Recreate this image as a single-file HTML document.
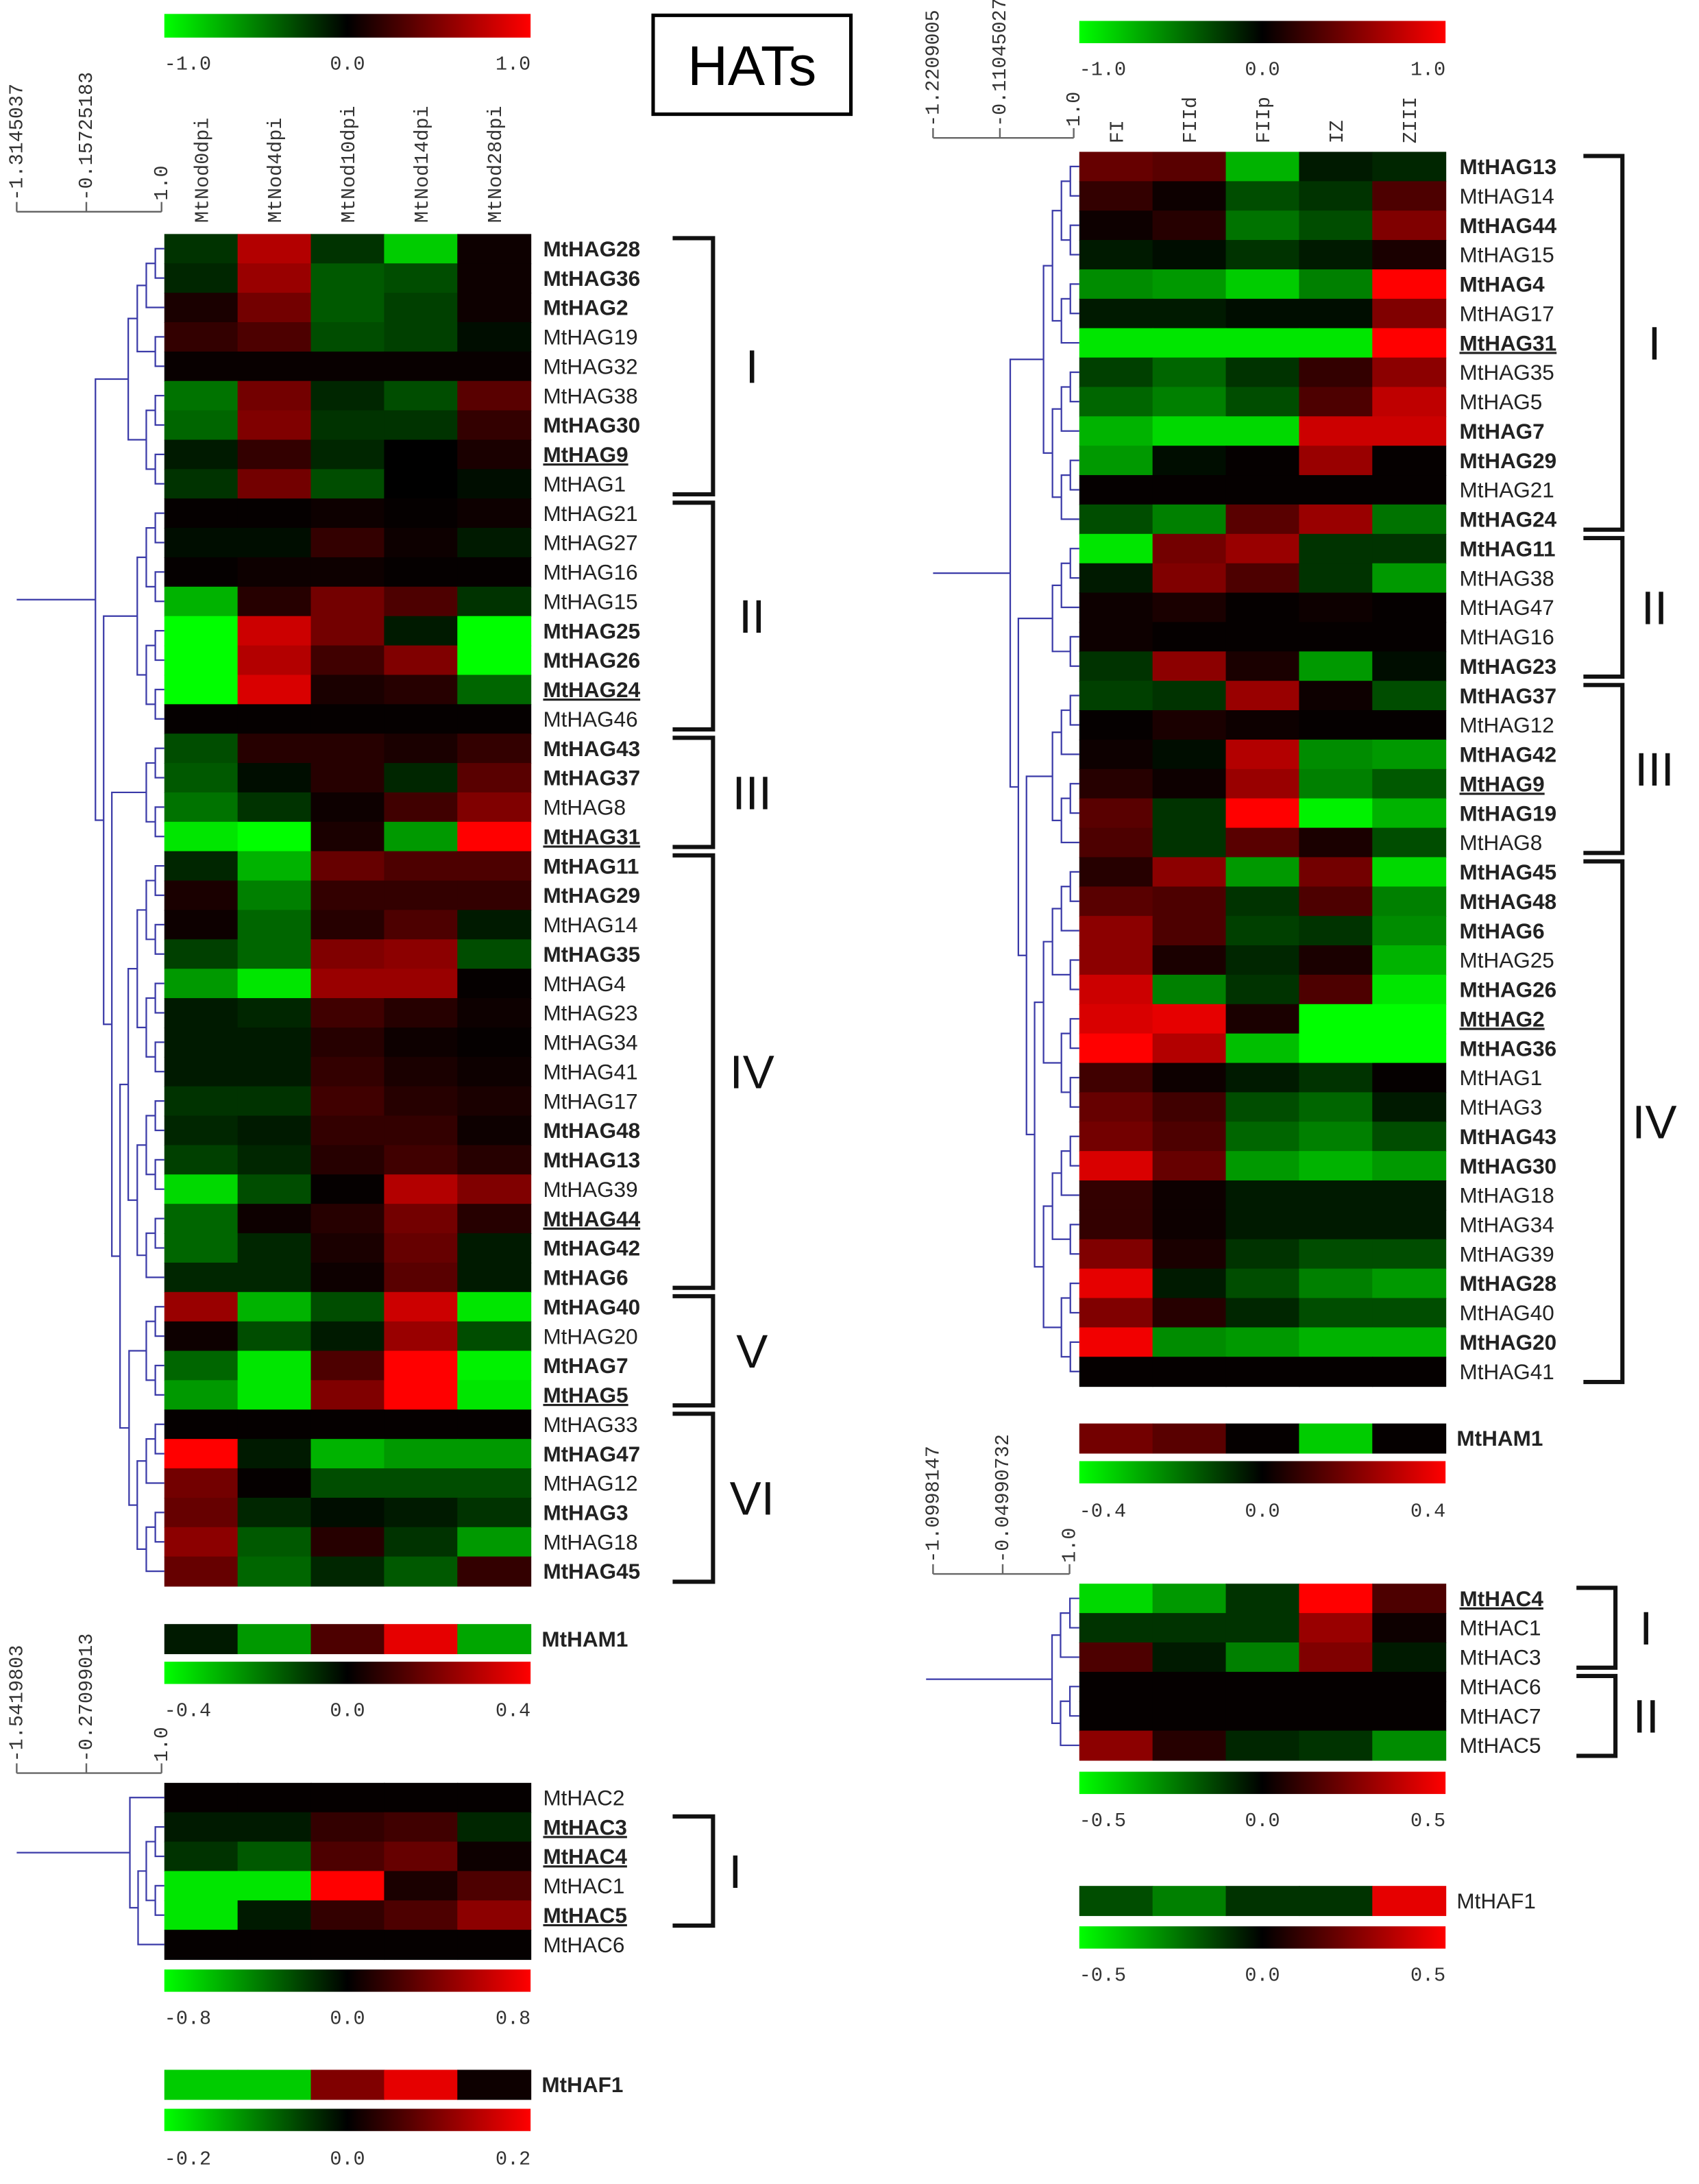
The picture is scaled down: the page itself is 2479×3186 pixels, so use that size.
<!DOCTYPE html>
<html><head><meta charset="utf-8"><style>
html,body{margin:0;padding:0;background:#fff;}
svg{display:block;}
.lab{font-family:"Liberation Sans",sans-serif;font-size:15.5px;fill:#222;}
.mono{font-family:"Liberation Mono",monospace;font-size:14px;fill:#333;}
.rn{font-family:"Liberation Sans",sans-serif;font-size:34px;fill:#111;}
</style></head><body>
<svg id="chart" xmlns="http://www.w3.org/2000/svg" width="2479" height="3186" viewBox="0 0 1220 1568" preserveAspectRatio="none">
<defs>
<linearGradient id="gbr" x1="0" x2="1" y1="0" y2="0">
<stop offset="0" stop-color="#00ff00"/><stop offset="0.5" stop-color="#000"/><stop offset="1" stop-color="#ff0000"/>
</linearGradient>
</defs>
<g id="root"></g>
</svg>
<script>
// ---------- DATA ----------
const leftCols = ["MtNod0dpi","MtNod4dpi","MtNod10dpi","MtNod14dpi","MtNod28dpi"];
const rightCols = ["FI","FIId","FIIp","IZ","ZIII"];
const leftGenes = ["MtHAG28","MtHAG36","MtHAG2","MtHAG19","MtHAG32","MtHAG38","MtHAG30","MtHAG9","MtHAG1","MtHAG21","MtHAG27","MtHAG16","MtHAG15","MtHAG25","MtHAG26","MtHAG24","MtHAG46","MtHAG43","MtHAG37","MtHAG8","MtHAG31","MtHAG11","MtHAG29","MtHAG14","MtHAG35","MtHAG4","MtHAG23","MtHAG34","MtHAG41","MtHAG17","MtHAG48","MtHAG13","MtHAG39","MtHAG44","MtHAG42","MtHAG6","MtHAG40","MtHAG20","MtHAG7","MtHAG5","MtHAG33","MtHAG47","MtHAG12","MtHAG3","MtHAG18","MtHAG45"];
const leftBold = ["MtHAG28","MtHAG36","MtHAG2","MtHAG30","MtHAG9","MtHAG25","MtHAG26","MtHAG24","MtHAG43","MtHAG37","MtHAG31","MtHAG11","MtHAG29","MtHAG35","MtHAG48","MtHAG13","MtHAG44","MtHAG42","MtHAG6","MtHAG40","MtHAG7","MtHAG5","MtHAG47","MtHAG3","MtHAG45"];
const leftUnder = ["MtHAG9","MtHAG24","MtHAG31","MtHAG44","MtHAG5"];
const leftValues = [
[-0.2,0.7,-0.2,-0.8,0.05],[-0.15,0.6,-0.35,-0.3,0.05],[0.1,0.45,-0.35,-0.25,0.05],[0.2,0.3,-0.3,-0.25,-0.05],[0.03,0.03,0.03,0.03,0.03],
[-0.45,0.45,-0.15,-0.3,0.35],[-0.4,0.5,-0.2,-0.2,0.2],[-0.1,0.2,-0.15,0,0.1],[-0.2,0.45,-0.3,0,-0.05],
[0.02,0.02,0.05,0.02,0.05],[-0.05,-0.05,0.2,0.05,-0.1],[0.02,0.05,0.05,0.02,0.02],[-0.7,0.15,0.45,0.3,-0.2],[-1,0.8,0.45,-0.1,-1],[-1,0.7,0.25,0.5,-1],[-1,0.85,0.1,0.15,-0.4],[0.02,0.02,0.02,0.02,0.02],
[-0.3,0.15,0.15,0.1,0.2],[-0.35,-0.05,0.15,-0.15,0.35],[-0.45,-0.2,0.05,0.25,0.5],[-0.9,-1,0.1,-0.6,1],
[-0.15,-0.7,0.4,0.3,0.3],[0.1,-0.5,0.2,0.2,0.2],[0.05,-0.4,0.15,0.3,-0.1],[-0.25,-0.4,0.5,0.55,-0.3],[-0.6,-0.9,0.6,0.6,0.02],[-0.1,-0.15,0.25,0.15,0.05],[-0.1,-0.1,0.15,0.05,0.02],[-0.1,-0.1,0.2,0.1,0.05],[-0.2,-0.2,0.25,0.15,0.1],[-0.15,-0.1,0.2,0.2,0.05],[-0.25,-0.15,0.15,0.25,0.15],[-0.85,-0.3,0.02,0.7,0.5],[-0.4,0.05,0.15,0.45,0.15],[-0.4,-0.15,0.1,0.4,-0.1],[-0.15,-0.15,0.05,0.35,-0.1],
[0.6,-0.7,-0.3,0.8,-0.9],[0.05,-0.3,-0.1,0.6,-0.3],[-0.4,-0.9,0.3,1,-0.95],[-0.6,-0.9,0.5,1,-0.9],
[0.02,0.02,0.02,0.02,0.02],[1,-0.1,-0.7,-0.6,-0.6],[0.45,0.02,-0.3,-0.3,-0.3],[0.4,-0.15,-0.05,-0.1,-0.2],[0.55,-0.35,0.15,-0.2,-0.6],[0.4,-0.4,-0.15,-0.35,0.2]];
const leftGroups = [["I",0,8],["II",9,16],["III",17,20],["IV",21,35],["V",36,39],["VI",40,45]];

const rightGenes = ["MtHAG13","MtHAG14","MtHAG44","MtHAG15","MtHAG4","MtHAG17","MtHAG31","MtHAG35","MtHAG5","MtHAG7","MtHAG29","MtHAG21","MtHAG24","MtHAG11","MtHAG38","MtHAG47","MtHAG16","MtHAG23","MtHAG37","MtHAG12","MtHAG42","MtHAG9","MtHAG19","MtHAG8","MtHAG45","MtHAG48","MtHAG6","MtHAG25","MtHAG26","MtHAG2","MtHAG36","MtHAG1","MtHAG3","MtHAG43","MtHAG30","MtHAG18","MtHAG34","MtHAG39","MtHAG28","MtHAG40","MtHAG20","MtHAG41"];
const rightBold = ["MtHAG13","MtHAG44","MtHAG4","MtHAG31","MtHAG7","MtHAG29","MtHAG24","MtHAG11","MtHAG23","MtHAG37","MtHAG42","MtHAG9","MtHAG19","MtHAG45","MtHAG48","MtHAG6","MtHAG26","MtHAG2","MtHAG36","MtHAG43","MtHAG30","MtHAG28","MtHAG20"];
const rightUnder = ["MtHAG31","MtHAG9","MtHAG2"];
const rightValues = [
[0.4,0.35,-0.7,-0.1,-0.15],[0.2,0.05,-0.3,-0.2,0.3],[0.05,0.15,-0.45,-0.3,0.5],[-0.1,-0.05,-0.2,-0.1,0.1],[-0.55,-0.6,-0.8,-0.5,1],[-0.1,-0.1,-0.05,-0.05,0.5],[-0.9,-0.9,-0.9,-0.9,1],[-0.25,-0.4,-0.2,0.2,0.55],[-0.4,-0.5,-0.3,0.3,0.75],[-0.7,-0.85,-0.85,0.8,0.8],[-0.6,-0.05,0.02,0.6,0.02],[0.02,0.02,0.02,0.02,0.02],[-0.3,-0.5,0.35,0.6,-0.45],
[-0.9,0.45,0.6,-0.2,-0.2],[-0.1,0.5,0.3,-0.2,-0.6],[0.05,0.1,0.02,0.05,0.02],[0.05,0.02,0.02,0.02,0.02],[-0.2,0.55,0.1,-0.6,-0.05],
[-0.25,-0.2,0.6,0.05,-0.3],[0.02,0.1,0.05,0.02,0.02],[0.05,-0.05,0.7,-0.55,-0.6],[0.15,0.05,0.6,-0.5,-0.35],[0.35,-0.2,1,-0.95,-0.7],[0.3,-0.2,0.35,0.1,-0.3],
[0.15,0.55,-0.6,0.45,-0.85],[0.35,0.3,-0.2,0.3,-0.5],[0.55,0.3,-0.25,-0.2,-0.55],[0.55,0.1,-0.15,0.1,-0.7],[0.8,-0.5,-0.2,0.3,-0.9],[0.85,0.9,0.1,-1,-1],[1,0.7,-0.75,-1,-1],[0.25,0.05,-0.1,-0.2,0.02],[0.4,0.25,-0.3,-0.4,-0.1],[0.45,0.3,-0.4,-0.5,-0.3],[0.85,0.4,-0.6,-0.7,-0.6],[0.2,0.05,-0.1,-0.1,-0.1],[0.2,0.05,-0.1,-0.1,-0.1],[0.5,0.1,-0.2,-0.3,-0.3],[0.9,-0.1,-0.3,-0.5,-0.6],[0.5,0.15,-0.15,-0.3,-0.3],[0.95,-0.55,-0.6,-0.7,-0.7],[0.02,0.02,0.02,0.02,0.02]];
const rightGroups = [["I",0,12],["II",13,17],["III",18,23],["IV",24,41]];

const leftHAM1 = [-0.1,-0.6,0.3,0.9,-0.65];
const leftHACGenes = ["MtHAC2","MtHAC3","MtHAC4","MtHAC1","MtHAC5","MtHAC6"];
const leftHACBold = ["MtHAC3","MtHAC4","MtHAC5"];
const leftHACValues = [[0.02,0.02,0.02,0.02,0.02],[-0.1,-0.1,0.2,0.25,-0.15],[-0.2,-0.35,0.3,0.4,0.05],[-0.9,-0.9,1,0.1,0.3],[-0.9,-0.1,0.2,0.3,0.55],[0.02,0.02,0.02,0.02,0.02]];
const leftHAF1 = [-0.8,-0.8,0.5,0.9,0.05];
const rightHAM1 = [0.45,0.35,0.02,-0.8,0.02];
const rightHACGenes = ["MtHAC4","MtHAC1","MtHAC3","MtHAC6","MtHAC7","MtHAC5"];
const rightHACBold = ["MtHAC4"];
const rightHACValues = [[-0.85,-0.6,-0.2,1,0.3],[-0.2,-0.2,-0.2,0.6,0.05],[0.3,-0.1,-0.5,0.5,-0.1],[0.02,0.02,0.02,0.02,0.02],[0.02,0.02,0.02,0.02,0.02],[0.55,0.15,-0.15,-0.2,-0.55]];
const rightHAF1 = [-0.3,-0.5,-0.2,-0.2,0.9];

const leftTicks = ["-1.0","0.0","1.0"];
const ticks04 = ["-0.4","0.0","0.4"];
const ticks08 = ["-0.8","0.0","0.8"];
const ticks02 = ["-0.2","0.0","0.2"];
const ticks05 = ["-0.5","0.0","0.5"];

// ---------- DRAW ----------
const NS = "http://www.w3.org/2000/svg";
const root = document.getElementById("root");
function mk(tag, attrs, parent){const e=document.createElementNS(NS,tag);for(const k in attrs)e.setAttribute(k,attrs[k]);(parent||root).appendChild(e);return e;}
function col(v){v=Math.max(-1,Math.min(1,v));if(v<0)return `rgb(0,${Math.round(-v*255)},0)`;return `rgb(${Math.round(v*255)},0,0)`;}
const RH = 21.1;
function xScale(x0,x1,n){const w=(x1-x0)/n;return i=>x0+i*w;}

function heat(values, x0, x1, y0, name){
  const g=mk("g",{});
  
  
  const xs=xScale(x0,x1,5), w=(x1-x0)/5;
  values.forEach((row,r)=>row.forEach((v,c)=>{
    const rc=mk("rect",{x:xs(c),y:y0+r*RH,width:w+0.5,height:RH+0.5,fill:col(v)},g);
    
    
  }));
}
function labels(genes,bold,under,x,y0,name){
  genes.forEach((gname,r)=>{
    const t=mk("text",{x:x,y:y0+r*RH+RH/2+5.5,class:"lab"});
    t.textContent=gname;
    if(bold.includes(gname)) t.setAttribute("font-weight","bold");
    if(under.includes(gname)) t.setAttribute("text-decoration","underline");
    
    
  });
}
function colorbar(x0,x1,y,h,ticks,ty,name){
  const r=mk("rect",{x:x0,y:y,width:x1-x0,height:h,fill:"url(#gbr)"});
  
  
  const pos=[x0,(x0+x1)/2,x1], anc=["start","middle","end"];
  ticks.forEach((t,i)=>{
    const tx=mk("text",{x:pos[i],y:ty,class:"mono","text-anchor":anc[i],"font-size":"15"});
    tx.textContent=t;
    
    
  });
}
function colHeaders(cols,x0,x1,yb,name){
  const xs=xScale(x0,x1,5), w=(x1-x0)/5;
  cols.forEach((c,i)=>{
    const x=xs(i)+w/2+5;
    const t=mk("text",{x:x,y:yb,class:"mono",transform:`rotate(-90 ${x} ${yb})`});
    t.textContent=c;
    
    
  });
}
function scaleBar(xs,labs,y,name){
  const g=mk("g",{stroke:"#666","stroke-width":1.2,fill:"none"});
  
  
  mk("line",{x1:xs[0],x2:xs[2],y1:y,y2:y},g);
  xs.forEach(x=>mk("line",{x1:x,x2:x,y1:y-7,y2:y},g));
  labs.forEach((l,i)=>{
    const x=xs[i]+4, yy=y-8;
    const t=mk("text",{x:x,y:yy,class:"mono","font-size":"10.5",transform:`rotate(-90 ${x} ${yy})`});
    t.textContent=l;
    
    
  });
}
function dendro(groups,n,y0,xr,xl,name){
  const g=mk("g",{stroke:"#3a3aa8","stroke-width":1.1,fill:"none"});
  
  
  const unit=(xr-xl)/9;
  function build(lo,hi){
    if(lo===hi) return {y:y0+lo*RH+RH/2,h:0};
    const mid=Math.floor((lo+hi)/2);
    const a=build(lo,mid), b=build(mid+1,hi);
    const h=Math.max(a.h,b.h)+0.55;
    join(a,b,h);
    return {y:(a.y+b.y)/2,h:h};
  }
  function join(a,b,h){
    const x=xr-h*unit;
    mk("path",{d:`M${xr-a.h*unit} ${a.y}H${x}V${b.y}H${xr-b.h*unit}`},g);
  }
  let nodes=groups.map(gr=>build(gr[1],gr[2]));
  let cur=nodes[nodes.length-1];
  for(let i=nodes.length-2;i>=0;i--){
    const h=Math.max(nodes[i].h,cur.h)+0.5;
    join(nodes[i],cur,h);
    cur={y:(nodes[i].y+cur.y)/2,h:h};
  }
  mk("path",{d:`M${xr-cur.h*unit} ${cur.y}H${xl}`},g);
}
function brackets(groups,y0,bx,tickw,nx,name){
  groups.forEach(gr=>{
    const top=y0+gr[1]*RH+3, bot=y0+(gr[2]+1)*RH-3;
    const p=mk("path",{d:`M${bx-tickw} ${top}H${bx}V${bot}H${bx-tickw}`,stroke:"#111","stroke-width":3,fill:"none"});
    
    
    const t=mk("text",{x:nx,y:(top+bot)/2+12,class:"rn","text-anchor":"middle"});
    t.textContent=gr[0];
    
    
  });
}
function bar1(vals,x0,x1,y,label,bold,name){
  heat([vals],x0,x1,y,name);
  const t=mk("text",{x:x1+8,y:y+RH/2+5.5,class:"lab"});
  t.textContent=label;
  if(bold) t.setAttribute("font-weight","bold");
  
  
}

// Title box
const tb=mk("rect",{x:469,y:11,width:142,height:71,fill:"none",stroke:"#000","stroke-width":2.5});


const tt=mk("text",{x:540,y:61,"text-anchor":"middle","font-family":"Liberation Sans, sans-serif","font-size":"40",fill:"#000"});
tt.textContent="HATs";



// LEFT PANEL
const LX0=118, LX1=381, LY0=168;
colorbar(LX0,LX1,10,17,leftTicks,50,"left-colorbar");
colHeaders(leftCols,LX0,LX1,160,"left-column-header");
scaleBar([12,62,116],["-1.3145037","-0.15725183","1.0"],152,"left-dendrogram-scale");
heat(leftValues,LX0,LX1,LY0,"left-hag-heatmap");
labels(leftGenes,leftBold,leftUnder,390,LY0,"gene-label");
dendro(leftGroups,leftGenes.length,LY0,LX0,12,"left-hag-dendrogram");
brackets(leftGroups,LY0,512,29,540,"left-cluster-bracket");
bar1(leftHAM1,LX0,LX1,1166,"MtHAM1",true,"left-ham1-bar");
colorbar(LX0,LX1,1193,16,ticks04,1232,"left-ham1-colorbar");
scaleBar([12,62,116],["-1.5419803","-0.27099013","1.0"],1273,"left-hac-dendrogram-scale");
heat(leftHACValues,LX0,LX1,1280,"left-hac-heatmap");
labels(leftHACGenes,leftHACBold,leftHACBold,390,1280,"gene-label");
dendro([["I",0,0],["I",1,4],["I",5,5]],6,1280,LX0,12,"left-hac-dendrogram");
brackets([["I",1,4]],1280,512,29,528,"left-hac-bracket");
colorbar(LX0,LX1,1414,16,ticks08,1453,"left-hac-colorbar");
bar1(leftHAF1,LX0,LX1,1486,"MtHAF1",true,"left-haf1-bar");
colorbar(LX0,LX1,1514,16,ticks02,1554,"left-haf1-colorbar");

// RIGHT PANEL
const RX0=775, RX1=1038, RY0=109;
colorbar(RX0,RX1,15,16,leftTicks,54,"right-colorbar");
colHeaders(rightCols,RX0,RX1,103,"right-column-header");
scaleBar([670,718,771],["-1.2209005","-0.11045027","1.0"],99,"right-dendrogram-scale");
heat(rightValues,RX0,RX1,RY0,"right-hag-heatmap");
labels(rightGenes,rightBold,rightUnder,1048,RY0,"gene-label");
dendro(rightGroups,rightGenes.length,RY0,RX0,670,"right-hag-dendrogram");
brackets(rightGroups,RY0,1165,28,1188,"right-cluster-bracket");
bar1(rightHAM1,RX0,RX1,1022,"MtHAM1",true,"right-ham1-bar");
colorbar(RX0,RX1,1049,16,ticks04,1089,"right-ham1-colorbar");
scaleBar([670,720,768],["-1.0998147","-0.04990732","1.0"],1130,"right-hac-dendrogram-scale");
heat(rightHACValues,RX0,RX1,1137,"right-hac-heatmap");
labels(rightHACGenes,rightHACBold,rightHACBold,1048,1137,"gene-label");
const rhg=[["I",0,2],["II",3,5]];
dendro(rhg,6,1137,RX0,665,"right-hac-dendrogram");
brackets(rhg,1137,1160,28,1182,"right-hac-bracket");
colorbar(RX0,RX1,1272,16,ticks05,1311,"right-hac-colorbar");
bar1(rightHAF1,RX0,RX1,1354,"MtHAF1",false,"right-haf1-bar");
colorbar(RX0,RX1,1383,16,ticks05,1422,"right-haf1-colorbar");
</script>
</body></html>
